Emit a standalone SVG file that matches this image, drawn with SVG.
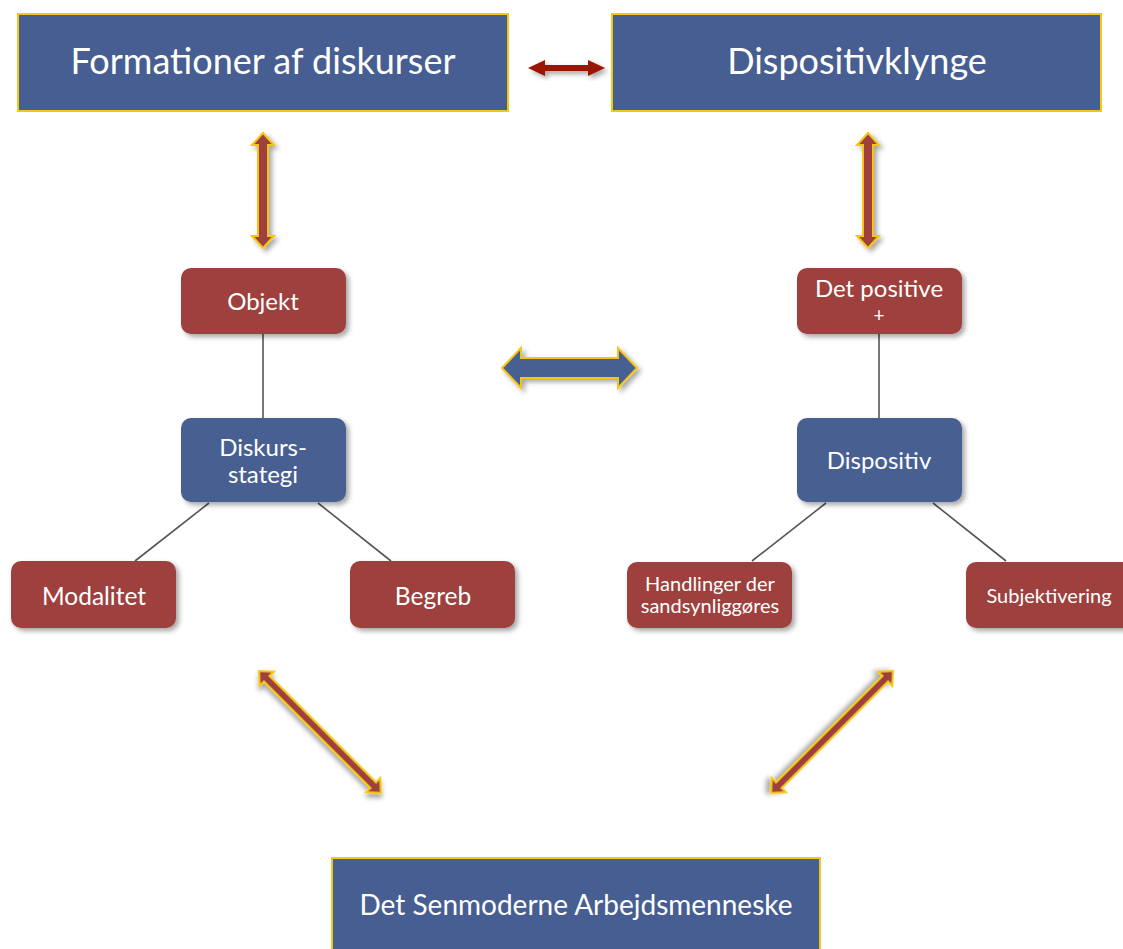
<svg xmlns="http://www.w3.org/2000/svg" width="1123" height="949" viewBox="0 0 1123 949">
<defs>
<filter id="sh" x="-20%" y="-20%" width="150%" height="150%">
<feDropShadow dx="3" dy="3" stdDeviation="2.5" flood-color="#000" flood-opacity="0.35"/>
</filter>
<style>
.big{fill:#465E91;stroke:#F5C518;stroke-width:2}
.red{fill:#9E413C}
.blue{fill:#465E91}
.t{font-family:Lato,"Open Sans","Liberation Sans",sans-serif;fill:#fff;text-anchor:middle}
.ln{stroke:#555;stroke-width:1.6;fill:none}
.arr{fill:#9E413C;stroke:#F5C518;stroke-width:2;stroke-linejoin:miter}
</style>
</defs>
<rect width="1123" height="949" fill="#fff"/>
<g id="connectors">
<line class="ln" x1="263" y1="334" x2="263" y2="418"/>
<line class="ln" x1="209" y1="503" x2="135" y2="561"/>
<line class="ln" x1="318" y1="503" x2="391" y2="561"/>
<line class="ln" x1="879" y1="334" x2="879" y2="418"/>
<line class="ln" x1="826" y1="503" x2="752" y2="561"/>
<line class="ln" x1="933" y1="503" x2="1006" y2="561"/>
<path filter="url(#sh)" fill="#9B1500" d="M528,68 L545,60 L545,65 L588,65 L588,60 L605,68 L588,76 L588,71 L545,71 L545,76 Z"/>
<path filter="url(#sh)" class="arr" d="M263,133 L274,145 L268,145 L268,236 L274,236 L263,248 L252,236 L258,236 L258,145 L252,145 Z"/>
<path filter="url(#sh)" class="arr" d="M868,133 L879,145 L873,145 L873,236 L879,236 L868,248 L857,236 L863,236 L863,145 L857,145 Z"/>
<path filter="url(#sh)" fill="#465E91" stroke="#F5C518" stroke-width="2" d="M502,368 L521,348 L521,358 L618,358 L618,348 L637,368 L618,388 L618,378 L521,378 L521,388 Z"/>
<g transform="translate(259,671) rotate(45)">
<path filter="url(#sh)" class="arr" d="M0,0 L11,-10 L11,-4 L161.5,-4 L161.5,-10 L172.5,0 L161.5,10 L161.5,4 L11,4 L11,10 Z"/>
</g>
<g transform="translate(893,671) rotate(135)">
<path filter="url(#sh)" class="arr" d="M0,0 L11,-10 L11,-4 L161.5,-4 L161.5,-10 L172.5,0 L161.5,10 L161.5,4 L11,4 L11,10 Z"/>
</g>
</g>
<g id="formationer">
<rect class="big" x="18" y="14" width="490" height="97"/>
<text class="t" x="263" y="74" font-size="36">Formationer af diskurser</text>
</g>
<g id="dispositivklynge">
<rect class="big" x="612" y="14" width="489" height="97"/>
<text class="t" x="857" y="74" font-size="36">Dispositivklynge</text>
</g>
<g id="objekt">
<rect class="red" filter="url(#sh)" x="181" y="268" width="165" height="66" rx="10"/>
<text class="t" x="263" y="310" font-size="24">Objekt</text>
</g>
<g id="diskursstrategi">
<rect class="blue" filter="url(#sh)" x="181" y="418" width="165" height="84" rx="10"/>
<text class="t" x="263" y="456" font-size="24">Diskurs-</text>
<text class="t" x="263" y="483" font-size="24">stategi</text>
</g>
<g id="modalitet">
<rect class="red" filter="url(#sh)" x="11" y="561" width="165" height="67" rx="10"/>
<text class="t" x="94" y="605" font-size="24.5">Modalitet</text>
</g>
<g id="begreb">
<rect class="red" filter="url(#sh)" x="350" y="561" width="165" height="67" rx="10"/>
<text class="t" x="433" y="605" font-size="24.5">Begreb</text>
</g>
<g id="detpositive">
<rect class="red" filter="url(#sh)" x="797" y="268" width="165" height="66" rx="10"/>
<text class="t" x="879" y="297" font-size="24">Det positive</text>
<text class="t" x="879" y="322" font-size="19">+</text>
</g>
<g id="dispositiv">
<rect class="blue" filter="url(#sh)" x="797" y="418" width="165" height="84" rx="10"/>
<text class="t" x="879" y="469" font-size="24">Dispositiv</text>
</g>
<g id="handlinger">
<rect class="red" filter="url(#sh)" x="627" y="562" width="165" height="66" rx="10"/>
<text class="t" x="710" y="591" font-size="20">Handlinger der</text>
<text class="t" x="710" y="613" font-size="20">sandsynliggøres</text>
</g>
<g id="subjektivering">
<rect class="red" filter="url(#sh)" x="966" y="562" width="168" height="66" rx="10"/>
<text class="t" x="1049" y="603" font-size="20">Subjektivering</text>
</g>
<g id="senmoderne">
<rect class="big" x="332" y="858" width="488" height="100"/>
<text class="t" x="576" y="915" font-size="28">Det Senmoderne Arbejdsmenneske</text>
</g>
</svg>
